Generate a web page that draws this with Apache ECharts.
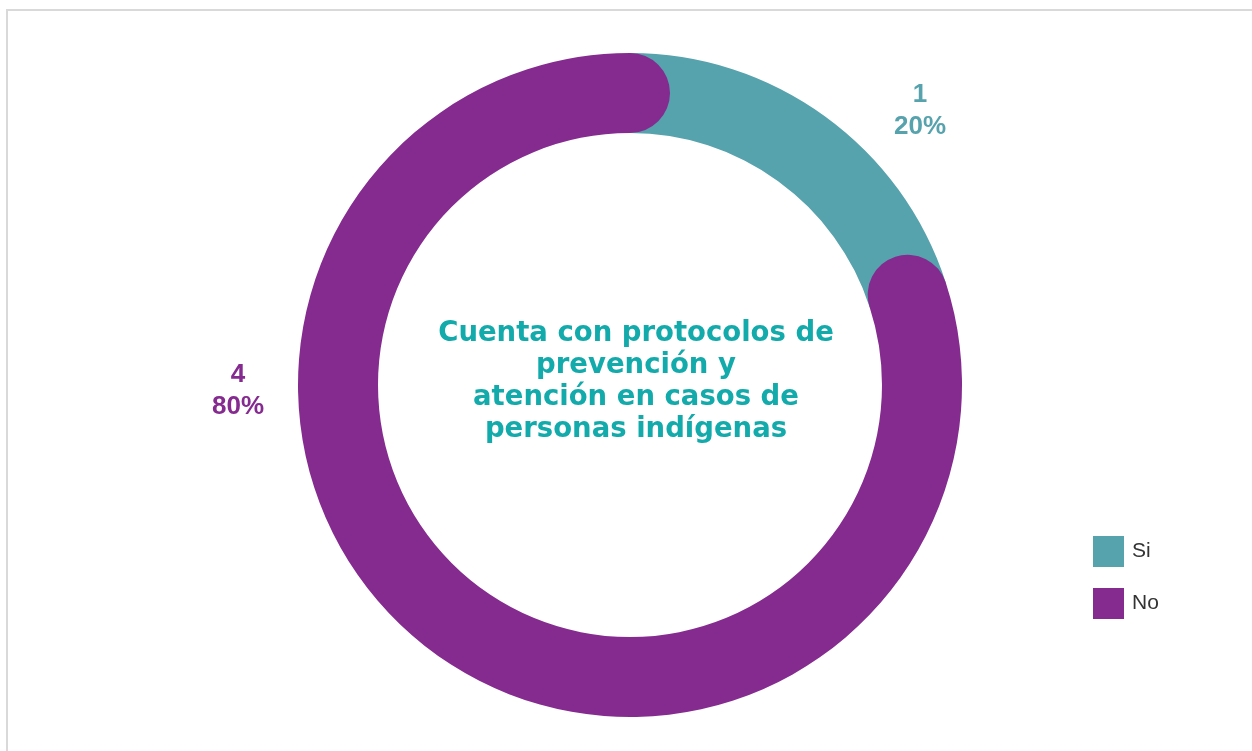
<!doctype html>
<html>
<head>
<meta charset="utf-8">
<style>
    html, body {margin: 0; padding: 0; background: #fff;}
    #chart {width: 1252px; height: 751px;}
</style>
<script src="https://cdn.jsdelivr.net/npm/echarts@6/dist/echarts.min.js"></script>
</head>
<body>
<div id="chart"></div>
<script>
    // datos
    var categories = ['Si', 'No'];
    var values = [1, 4];
    var colors = ['#56A2AD', '#852A8F'];
    var titulo = 'Cuenta con protocolos de\nprevención y\natención en casos de\npersonas indígenas';

    var total = values.reduce(function (a, b) { return a + b; }, 0);

    // posiciones de las etiquetas
    var labelPos = [{x: 920, y: 111}, {x: 238, y: 391}];

    var myChart = echarts.init(document.getElementById('chart'));

    var series = categories.map(function (name, i) {
        return {
            name: name,
            type: 'bar',
            coordinateSystem: 'polar',
            stack: 'total',
            roundCap: i === 1,
            barCategoryGap: '0%',
            data: [values[i]],
            itemStyle: {color: colors[i]},
            z: 2 + i,
            label: {
                show: true,
                formatter: function (p) {
                    return p.value + '\n' + Math.round(p.value / total * 100) + '%';
                },
                color: colors[i],
                fontFamily: 'Liberation Sans',
                fontWeight: 'bold',
                fontSize: 26,
                lineHeight: 32
            },
            labelLayout: {
                x: labelPos[i].x,
                y: labelPos[i].y,
                align: 'center',
                verticalAlign: 'middle'
            }
        };
    });

    var option = {
        animation: false,
        title: {
            text: titulo,
            left: 631,
            top: 313,
            textAlign: 'center',
            textStyle: {
                color: '#12AAAB',
                fontFamily: 'DejaVu Sans',
                fontWeight: 'bold',
                fontSize: 27.5,
                lineHeight: 32
            }
        },
        legend: {
            data: categories,
            orient: 'vertical',
            left: 1088,
            top: 531,
            itemWidth: 31,
            itemHeight: 31,
            itemGap: 21,
            icon: 'rect',
            textStyle: {
                color: '#333',
                fontFamily: 'Liberation Sans',
                fontSize: 21,
                padding: [0, 0, 0, 3]
            }
        },
        polar: {
            center: [630, 385],
            radius: [252, 332]
        },
        angleAxis: {
            max: total,
            startAngle: 90,
            clockwise: true,
            show: false
        },
        radiusAxis: {
            type: 'category',
            data: [''],
            show: false
        },
        graphic: [
            {type: 'line', shape: {x1: 6, y1: 10, x2: 1252, y2: 10}, style: {stroke: '#d9d9d9', lineWidth: 2}},
            {type: 'line', shape: {x1: 7, y1: 9, x2: 7, y2: 751}, style: {stroke: '#d9d9d9', lineWidth: 2}}
        ],
        series: series
    };

    myChart.setOption(option);
</script>
</body>
</html>
